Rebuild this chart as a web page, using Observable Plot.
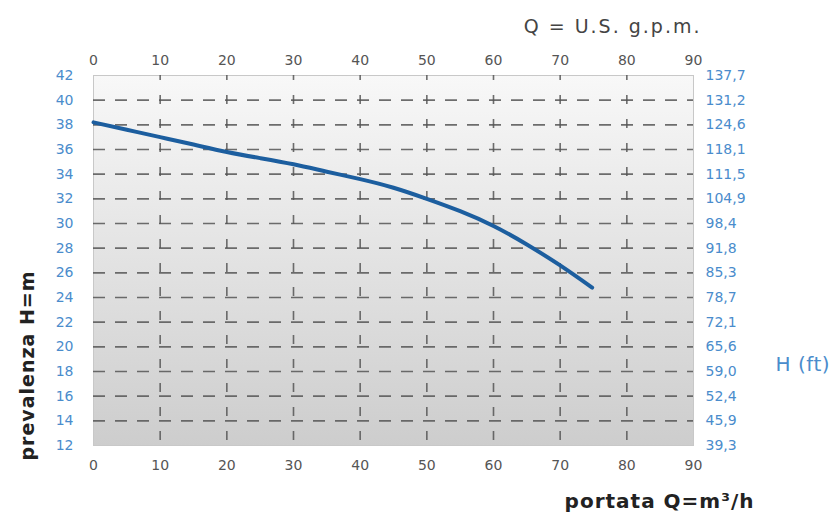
<!DOCTYPE html>
<html><head><meta charset="utf-8">
<script src="https://cdn.jsdelivr.net/npm/d3@7"></script>
<script src="https://cdn.jsdelivr.net/npm/@observablehq/plot@0.6"></script>
<style>body{margin:0;background:#fff;font-family:"DejaVu Sans",sans-serif}</style>
</head><body><div id="chart"></div>
<script>
const flowQ = [0,5,10,15,20,25,30,35,40,45,50,55,60,65,70,74.8];
const headH = [38.2,37.6,37.0,36.4,35.8,35.3,34.8,34.2,33.6,32.9,32.0,31.0,29.8,28.3,26.6,24.8];
const xTicks = [0,10,20,30,40,50,60,70,80,90];
const yTicks = [12,14,16,18,20,22,24,26,28,30,32,34,36,38,40,42];
const ftLabels = ["39,3","45,9","52,4","59,0","65,6","72,1","78,7","85,3","91,8","98,4","104,9","111,5","118,1","124,6","131,2","137,7"];
const vGrid = [10,20,30,40,50,60,70,80];
const hGrid = [14,16,18,20,22,24,26,28,30,32,34,36,38,40];
const titleBottom = "portata Q=m³/h";
const titleTop = "Q = U.S. g.p.m.";
const titleRight = "H (ft)";
const titleLeft = "prevalenza H=m";

const curve = flowQ.map((q,i)=>({q, h: headH[i]}));
const blue = "#4a8ccc";

const svg = Plot.plot({
  width: 833, height: 512,
  marginLeft: 93, marginRight: 140, marginTop: 75, marginBottom: 67,
  style: {fontFamily: '"DejaVu Sans", sans-serif', fontSize: "14px", background: "transparent"},
  x: {domain: [0,90]},
  y: {domain: [12,42]},
  marks: [
    Plot.frame({fill: "url(#bggrad)", stroke: "#c8c8c8", strokeWidth: 1}),
    Plot.ruleY(hGrid, {stroke: "#555", strokeWidth: 1.6, strokeDasharray: "12,10", strokeOpacity: 0.85}),
    Plot.ruleX(vGrid, {stroke: "#555", strokeWidth: 1.6, strokeDasharray: "9,15", strokeDashoffset: 4, strokeOpacity: 0.85}),
    Plot.line(curve, {x: "q", y: "h", stroke: "#1c5e9f", strokeWidth: 4, curve: "natural"}),
    Plot.axisX(xTicks, {anchor: "bottom", tickSize: 0, tickPadding: 15, label: null, fill: "#555"}),
    Plot.axisX(xTicks, {anchor: "top", tickSize: 0, tickPadding: 11, label: null, fill: "#555"}),
    Plot.axisY(yTicks, {anchor: "left", tickSize: 0, tickPadding: 20, label: null, fill: blue}),
    Plot.axisY(yTicks, {anchor: "right", tickSize: 0, tickPadding: 12, label: null, fill: blue,
      tickFormat: d => ftLabels[yTicks.indexOf(d)]}),
    Plot.text([titleBottom], {frameAnchor: "bottom-right", dx: 61, dy: 56, textAnchor: "end", lineAnchor: "middle", fontSize: 20, fontWeight: "bold", fill: "#222"}),
    Plot.text([titleTop], {frameAnchor: "top-right", dx: 8, dy: -56, textAnchor: "end", fontSize: 19, fill: "#444"}),
    Plot.text([titleRight], {frameAnchor: "right", dx: 82, dy: 104, textAnchor: "start", fontSize: 20, fill: blue}),
    Plot.text([titleLeft], {frameAnchor: "left", dx: -66, dy: 105, rotate: -90, textAnchor: "middle", fontSize: 19, fontWeight: "bold", fill: "#222"})
  ]
});

const spacing = {[titleBottom]: "1px", [titleTop]: "2px", [titleRight]: "0.5px", [titleLeft]: "1px"};
svg.querySelectorAll("text").forEach(t => {
  if (spacing[t.textContent]) t.setAttribute("letter-spacing", spacing[t.textContent]);
});

const defs = d3.select(svg).insert("defs", ":first-child");
const g = defs.append("linearGradient").attr("id","bggrad").attr("x1",0).attr("y1",0).attr("x2",0).attr("y2",1);
g.append("stop").attr("offset","0%").attr("stop-color","#f8f8f8");
g.append("stop").attr("offset","100%").attr("stop-color","#cdcdcd");
document.getElementById("chart").appendChild(svg);
</script></body></html>
